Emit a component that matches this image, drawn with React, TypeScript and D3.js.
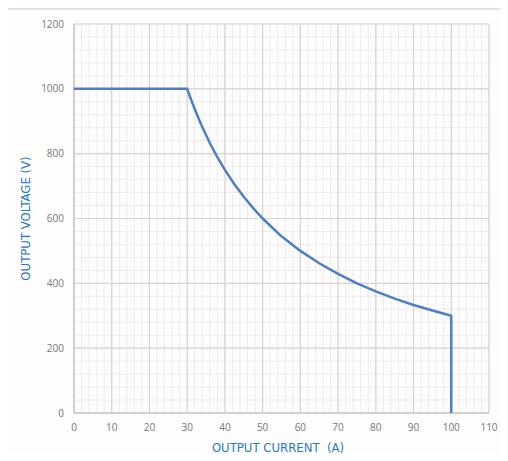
import * as d3 from "d3";
import { useEffect, useRef } from "react";

const currentA = [0, 30, 31, 32, 33, 34, 36, 38, 40, 42.5, 45, 47.5, 50, 55, 60, 65, 70, 75, 80, 85, 90, 95, 100, 100];
const voltageV = [1000, 1000, 968, 938, 909, 882, 833, 789, 750, 706, 667, 632, 600, 545, 500, 462, 429, 400, 375, 353, 333, 316, 300, 0];
const xTicks = [0, 10, 20, 30, 40, 50, 60, 70, 80, 90, 100, 110];
const yTicks = [0, 200, 400, 600, 800, 1000, 1200];

export default function App() {
  const svgRef = useRef<SVGSVGElement>(null);
  const width = 508;
  const height = 461;

  useEffect(() => {
    const svg = d3.select(svgRef.current);
    svg.selectAll("*").remove();

    // backdrop + white panel
    svg.append("rect").attr("width", width).attr("height", height).attr("fill", "#dde2f0");
    svg.append("rect").attr("x", 6).attr("y", 10).attr("width", 494).attr("height", 446).attr("fill", "#fdfdfe");

    const x = d3.scaleLinear().domain([0, 110]).range([74, 489]);
    const y = d3.scaleLinear().domain([0, 1200]).range([413, 24]);

    const g = svg.append("g");

    // minor grid
    const minorX = d3.range(0, 110.01, 2);
    const minorY = d3.range(0, 1200.01, 40);
    g.selectAll("line.mx").data(minorX).enter().append("line")
      .attr("x1", d => x(d)).attr("x2", d => x(d))
      .attr("y1", y(0)).attr("y2", y(1200))
      .attr("stroke", "#efeaec").attr("stroke-width", 1);
    g.selectAll("line.my").data(minorY).enter().append("line")
      .attr("y1", d => y(d)).attr("y2", d => y(d))
      .attr("x1", x(0)).attr("x2", x(110))
      .attr("stroke", "#efeaec").attr("stroke-width", 1);

    // major grid
    g.selectAll("line.gx").data(xTicks).enter().append("line")
      .attr("x1", d => x(d)).attr("x2", d => x(d))
      .attr("y1", y(0)).attr("y2", y(1200))
      .attr("stroke", "#dcd2d2").attr("stroke-width", 1.2);
    g.selectAll("line.gy").data(yTicks).enter().append("line")
      .attr("y1", d => y(d)).attr("y2", d => y(d))
      .attr("x1", x(0)).attr("x2", x(110))
      .attr("stroke", "#dcd2d2").attr("stroke-width", 1.2);

    // axis lines
    g.append("line").attr("x1", x(0)).attr("x2", x(110)).attr("y1", y(0)).attr("y2", y(0))
      .attr("stroke", "#cfc6c6").attr("stroke-width", 1.5);
    g.append("line").attr("x1", x(0)).attr("x2", x(0)).attr("y1", y(0)).attr("y2", y(1200))
      .attr("stroke", "#cfc6c6").attr("stroke-width", 1.5);

    // tick labels
    g.selectAll("text.xt").data(xTicks).enter().append("text")
      .attr("x", d => x(d)).attr("y", 431)
      .attr("text-anchor", "middle")
      .attr("font-family", "Open Sans, sans-serif").attr("font-size", 10)
      .attr("fill", "#777").text(d => d);
    g.selectAll("text.yt").data(yTicks).enter().append("text")
      .attr("x", 64).attr("y", d => y(d)).attr("dy", "0.35em")
      .attr("text-anchor", "end")
      .attr("font-family", "Open Sans, sans-serif").attr("font-size", 10)
      .attr("fill", "#777").text(d => d);

    // axis titles
    g.append("text").attr("x", 278).attr("y", 452).attr("text-anchor", "middle")
      .attr("font-family", "DejaVu Sans Condensed, sans-serif").attr("font-size", 13)
      .attr("fill", "#2a78c2").style("white-space", "pre").text("OUTPUT CURRENT  (A)");
    g.append("text").attr("transform", `translate(30, ${y(600)}) rotate(-90)`)
      .attr("text-anchor", "middle")
      .attr("font-family", "DejaVu Sans Condensed, sans-serif").attr("font-size", 13)
      .attr("fill", "#2a78c2").text("OUTPUT VOLTAGE (V)");

    // curve
    const pts = currentA.map((c, i) => [c, voltageV[i]] as [number, number]);
    const line = d3.line<[number, number]>().x(d => x(d[0])).y(d => y(d[1]));
    g.append("path").attr("d", line(pts)).attr("fill", "none")
      .attr("stroke", "#4d80c0").attr("stroke-width", 2.5).attr("stroke-linejoin", "round");
  }, []);

  return (
    <div style={{ width, height, margin: -8 }}>
      <svg ref={svgRef} width={width} height={height} style={{ display: "block" }} />
    </div>
  );
}
